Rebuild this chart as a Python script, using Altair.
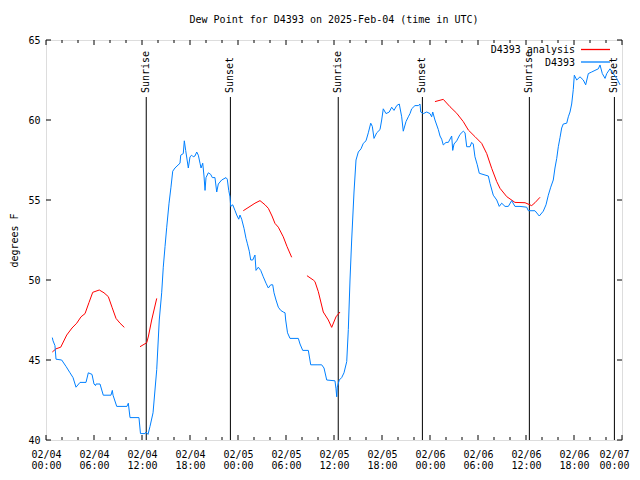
import json
import altair as alt
import pandas as pd

# ---------------- data ----------------
# hours since 2025-02-04 00:00 UTC
blue_hours = [0.79, 0.88, 1.12, 1.25, 1.96, 2.50, 3.00, 3.38, 3.75, 4.25, 5.00, 5.29, 5.75, 6.00, 6.19,
              6.25, 6.75, 7.16, 8.12, 8.29, 8.38, 8.84, 10.12, 10.29, 10.50, 11.62, 11.81, 12.38, 12.50,
              12.75, 13.00, 13.38, 13.84, 14.16, 14.46, 14.66, 14.88, 15.09, 15.38, 15.62, 15.84, 16.12,
              16.75, 16.84, 17.16, 17.29, 17.46, 17.79, 18.00, 18.21, 18.41, 18.62, 18.84, 19.04, 19.25,
              19.38, 19.59, 19.75, 19.88, 20.00, 20.29, 20.59, 20.79, 21.12, 21.34, 21.54, 21.96, 22.50,
              22.66, 22.84, 23.00, 23.09, 23.34, 23.62, 23.84, 24.09, 24.25, 24.46, 24.75, 25.00, 25.16,
              25.41, 25.59, 25.84, 26.12, 26.25, 26.54, 26.84, 27.16, 27.50, 27.79, 28.09, 28.34, 28.50,
              28.75, 29.04, 29.34, 29.66, 29.88, 29.96, 30.19, 30.50, 31.54, 31.75, 32.09, 32.79, 33.09,
              33.88, 34.46, 34.75, 35.09, 36.12, 36.25, 36.34, 36.41, 36.66, 36.96, 37.25, 37.59, 37.79,
              38.00, 38.21, 38.50, 38.75, 39.04, 39.38, 39.66, 40.00, 40.29, 40.59, 40.79, 41.00, 41.34,
              41.75, 41.96, 42.16, 42.50, 42.91, 43.21, 43.50, 43.84, 44.16, 44.46, 44.66, 45.00, 45.29,
              45.50, 45.71, 46.12, 46.54, 46.75, 46.84, 47.16, 47.59, 48.00, 48.21, 48.34, 48.62, 49.04,
              49.25, 49.46, 49.66, 50.00, 50.29, 50.71, 50.84, 51.00, 51.34, 51.75, 52.16, 52.38, 52.59,
              53.00, 53.21, 53.41, 53.62, 53.91, 54.16, 54.88, 55.29, 55.50, 55.91, 56.34, 56.66, 56.96,
              57.38, 57.79, 58.21, 58.62, 59.25, 60.09, 60.29, 61.12, 61.66, 62.16, 62.50, 62.79, 63.09,
              63.41, 63.62, 63.84, 64.04, 64.25, 64.46, 64.66, 65.09, 65.29, 65.50, 65.71, 65.91, 66.04,
              66.34, 66.75, 67.16, 67.46, 67.79, 68.21, 68.62, 69.04, 69.25, 69.54, 69.88, 70.09, 70.50,
              70.91, 71.34, 71.75]
blue_values = [46.4, 46.2, 45.9, 45.05, 45.0, 44.6, 44.2, 43.9, 43.3, 43.6, 43.6, 44.2, 44.1, 43.5, 43.4,
               43.5, 43.5, 42.8, 42.8, 43.1, 42.8, 42.1, 42.1, 42.3, 41.4, 41.4, 40.4, 40.4, 40.5,
               40.35, 40.85, 41.7, 44.4, 47.5, 49.2, 50.8, 52.1, 53.3, 54.8, 55.8, 56.8, 57.0,
               57.3, 57.8, 57.9, 58.7, 58.1, 57.0, 57.7, 57.8, 57.7, 57.75, 58.0, 57.8, 57.3,
               57.0, 57.3, 56.5, 55.6, 56.4, 56.7, 56.6, 56.4, 56.4, 55.5, 56.0, 56.25, 56.4,
               56.3, 55.6, 55.2, 54.6, 54.7, 54.35, 54.06, 53.8, 54.06, 53.8, 53.23, 52.6, 52.3,
               51.8, 51.25, 51.25, 51.56, 50.6, 50.8, 50.6, 50.2, 49.8, 49.5, 49.7, 49.7, 49.2,
               48.75, 48.3, 48.1, 48.0, 47.95, 47.5, 46.7, 46.35, 46.35, 46.0, 45.6, 45.6, 44.7,
               44.7, 44.7, 44.5, 43.75, 43.7, 43.2, 42.7, 43.3, 43.75, 43.9, 44.2, 44.9, 46.9,
               50.0, 52.5, 55.5, 57.5, 58.0, 58.2, 58.54, 58.7, 59.2, 59.8, 59.6, 58.85, 59.2,
               59.4, 60.0, 60.7, 60.4, 60.5, 60.8, 60.6, 60.9, 61.0, 60.2, 59.3, 59.9, 60.2,
               60.4, 60.7, 60.9, 60.9, 61.0, 60.5, 60.4, 60.5, 60.4, 60.2, 60.5, 60.0, 59.4,
               59.0, 58.8, 58.44, 58.6, 58.6, 59.0, 58.1, 58.5, 58.7, 59.1, 59.3, 59.2, 58.33,
               58.33, 58.6, 58.5, 57.7, 57.2, 56.67, 56.56, 56.5, 56.04, 55.3, 55.0, 54.6, 54.8,
               54.6, 54.6, 54.96, 54.6, 54.6, 54.55, 54.33, 54.33, 54.0, 54.3, 54.7, 55.3, 55.8,
               56.25, 57.0, 57.6, 58.33, 58.9, 59.5, 59.75, 59.8, 60.2, 60.5, 61.0, 61.9, 62.8,
               62.5, 62.7, 62.5, 62.2, 62.9, 63.0, 63.1, 63.2, 63.44, 62.9, 62.6, 62.9, 63.2,
               62.9, 62.6, 62.2]

red_hours = [0.79, 1.25, 1.84, 2.59, 3.25, 3.84, 4.38, 4.88, 5.38, 5.84, 6.66, 7.25, 7.79, 8.25, 8.75, 9.25, 9.79,
             11.75, 12.59, 12.81, 13.21, 13.84,
             24.66, 25.50, 26.12, 26.75, 27.38, 27.79, 28.25, 28.62, 29.04, 29.66, 30.12, 30.71,
             32.62, 33.41, 33.62, 34.04, 34.66, 35.29, 35.71, 36.25, 36.75,
             48.62, 49.66, 50.50, 51.34, 52.16, 52.79, 53.62, 54.46, 55.09, 55.71, 56.34, 56.75, 57.59,
             58.62, 59.88, 60.71, 61.12, 61.75]
red_values = [45.5, 45.7, 45.8, 46.56, 47.0, 47.3, 47.7, 47.9, 48.6, 49.23, 49.375, 49.2, 48.96, 48.3, 47.6, 47.3, 47.04,
              45.83, 46.08, 46.5, 47.5, 48.85,
              54.33, 54.6, 54.8, 54.96, 54.7, 54.48, 54.0, 53.54, 53.3, 52.7, 52.1, 51.42,
              50.27, 50.0, 49.9, 49.27, 48.0, 47.5, 47.04, 47.7, 48.0,
              61.15, 61.29, 60.83, 60.42, 59.9, 59.375, 58.96, 58.54, 57.9, 56.98, 56.15, 55.73, 55.21,
              54.85, 54.83, 54.65, 54.83, 55.17]
red_segment = [1] * 17 + [2] * 5 + [3] * 12 + [4] * 9 + [5] * 18

sun_hours = [12.53, 23.05, 36.53, 47.05, 60.42, 71.05]
sun_labels = ["Sunrise", "Sunset", "Sunrise", "Sunset", "Sunrise", "Sunset"]

series_names = ["D4393 analysis", "D4393"]
series_colors = ["#ff0000", "#0080ff"]

major_hours = list(range(0, 73, 6))
minor_hours = [h for h in range(0, 73, 2) if h % 6 != 0]
date_labels = ["02/04", "02/04", "02/04", "02/04", "02/05", "02/05", "02/05", "02/05",
               "02/06", "02/06", "02/06", "02/06", "02/07"]
time_labels = ["00:00", "06:00", "12:00", "18:00", "00:00", "06:00", "12:00", "18:00",
               "00:00", "06:00", "12:00", "18:00", "00:00"]
y_ticks = [40, 45, 50, 55, 60, 65]

title_text = "Dew Point for D4393 on 2025-Feb-04 (time in UTC)"
y_title = "degrees F"

# ---------------- chart ----------------
FONT = "DejaVu Sans Mono"
W, H = 576, 400

blue_df = pd.DataFrame({"h": blue_hours, "v": blue_values, "series": series_names[1], "seg": "b0"})
blue_df["idx"] = range(len(blue_df))
red_df = pd.DataFrame({"h": red_hours, "v": red_values, "series": series_names[0],
                       "seg": ["r%d" % s for s in red_segment]})
red_df["idx"] = range(len(red_df))

xs = alt.Scale(domain=[0, 72], nice=False, zero=False)
ys = alt.Scale(domain=[40, 65], nice=False, zero=False)
cs = alt.Scale(domain=series_names, range=series_colors)

label_expr = "[%s[round(datum.value/6)], %s[round(datum.value/6)]]" % (
    json.dumps(date_labels), json.dumps(time_labels))

x_axis = alt.Axis(values=major_hours, labelExpr=label_expr, ticks=False, domain=False, grid=False,
                  title=None, labelFont=FONT, labelFontSize=10, labelColor="black", labelAngle=0,
                  labelPadding=9, labelLineHeight=11.5, labelFlush=False, labelOverlap=False, labelBound=False,
                  labelOffset={"expr": "datum.value >= 72 ? -8 : 0"})
y_axis = alt.Axis(values=y_ticks, ticks=False, domain=False, grid=False, title=y_title,
                  titleFont=FONT, titleFontSize=10, titleFontWeight="normal", titleColor="black",
                  titlePadding=8, labelFont=FONT, labelFontSize=10, labelColor="black", labelPadding=6)

X = lambda: alt.X("h:Q", scale=xs, axis=x_axis)
Y = lambda: alt.Y("v:Q", scale=ys, axis=y_axis)

sun_df = pd.DataFrame({"h": sun_hours, "label": sun_labels})
sun_rules = alt.Chart(sun_df).mark_rule(color="black", strokeWidth=1).encode(
    x=X(), y=alt.value(57), y2=alt.value(H))
sun_text = alt.Chart(sun_df).mark_text(angle=270, align="left", baseline="middle", font=FONT,
                                       fontSize=10, color="black").encode(
    x=X(), y=alt.value(53), text="label:N")

def line_layer(df):
    return alt.Chart(df).mark_line(strokeWidth=1).encode(
        x=X(), y=Y(),
        color=alt.Color("series:N", scale=cs, legend=None),
        detail="seg:N",
        order="idx:Q",
    )

red_line = line_layer(red_df)
blue_line = line_layer(blue_df)

# inward ticks
maj_df = pd.DataFrame({"h": major_hours})
min_df = pd.DataFrame({"h": minor_hours})
yt_df = pd.DataFrame({"v": y_ticks})
tick_layers = []
for df, ln in ((maj_df, 5), (min_df, 3)):
    tick_layers.append(alt.Chart(df).mark_rule(color="black", strokeWidth=1).encode(
        x=X(), y=alt.value(H), y2=alt.value(H - ln)))
    tick_layers.append(alt.Chart(df).mark_rule(color="black", strokeWidth=1).encode(
        x=X(), y=alt.value(0), y2=alt.value(ln)))
tick_layers.append(alt.Chart(yt_df).mark_rule(color="black", strokeWidth=1).encode(
    y=Y(), x=alt.value(0), x2=alt.value(5)))
tick_layers.append(alt.Chart(yt_df).mark_rule(color="black", strokeWidth=1).encode(
    y=Y(), x=alt.value(W), x2=alt.value(W - 5)))

# key (top right, inside)
key_df = pd.DataFrame({"series": series_names})
key_layers = []
for i, name in enumerate(series_names):
    yy = 10 + 12.5 * i
    one = alt.Chart(key_df).transform_filter(alt.datum.series == name)
    key_layers.append(one.mark_text(
        align="right", baseline="middle", font=FONT, fontSize=10, color="black").encode(
        text="series:N", x=alt.value(529), y=alt.value(yy)))
    key_layers.append(one.mark_rule(strokeWidth=1.3, stroke=series_colors[i], color=series_colors[i]).encode(
        x=alt.value(535), x2=alt.value(564), y=alt.value(yy - 0.5)))

chart = alt.layer(
    sun_rules, sun_text, red_line, blue_line, *tick_layers, *key_layers
).properties(
    width=W, height=H,
    title=alt.TitleParams(title_text, font=FONT, fontSize=10, fontWeight="normal", color="black",
                          anchor="middle", offset=10),
    autosize=alt.AutoSizeParams(type="none"),
    padding={"left": 38, "top": 32, "right": 10, "bottom": 30},
).configure_view(stroke="black", strokeWidth=1).configure(background="white")

chart.save("out.html", embed_options={"renderer": "svg", "actions": False})
